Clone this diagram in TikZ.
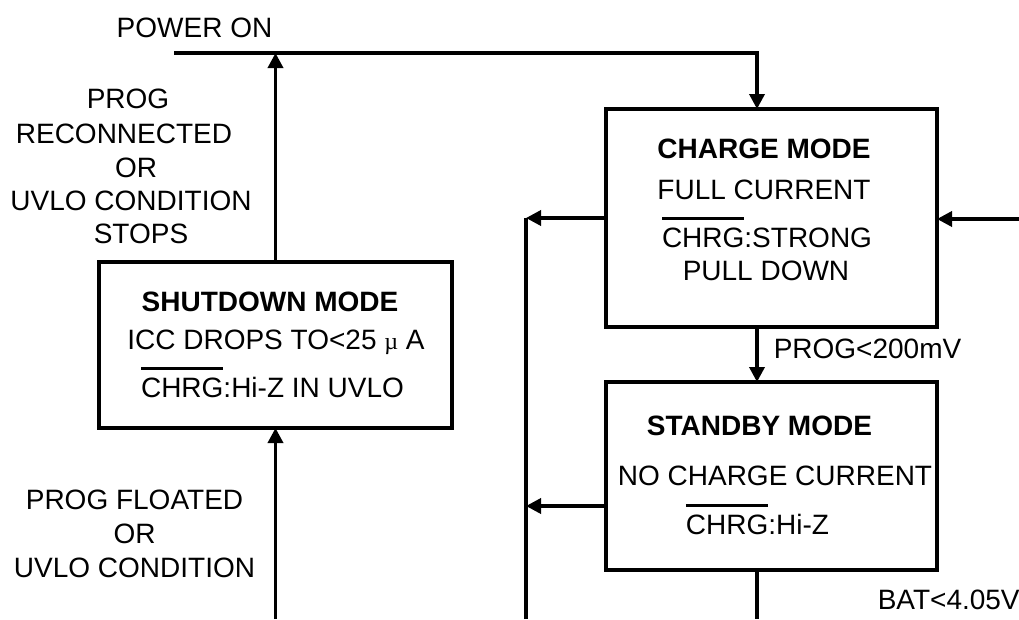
\documentclass[tikz,border=0pt]{standalone}
\usepackage{fontspec}
\setmainfont{Liberation Sans}
\newfontfamily\serfam{Liberation Serif}
\usetikzlibrary{arrows.meta,calc}
\newcommand\ovl[1]{\setbox0\hbox{#1}\rlap{\raisebox{\dimexpr\ht0+7pt\relax}{\rule{\wd0}{3pt}}}\box0}
\newcommand\micro{{\serfam\fontsize{24}{24}\selectfont µ}}
\begin{document}
\begin{tikzpicture}[x=1pt,y=-1pt, line width=3.5pt,
  mode/.style={draw, rectangle, inner sep=0pt, outer sep=0pt, line width=3.3pt},
  arr/.style={-{Triangle[length=15pt,width=15pt]}},
  lbl/.style={font=\fontsize{28}{34}\selectfont, inner sep=0pt, anchor=base},
  ttl/.style={lbl, font=\fontsize{28}{34}\selectfont\bfseries}]
\useasboundingbox (0,0) rectangle (1019,619);

% boxes
\node[mode, minimum width=331pt, minimum height=218pt] (charge) at (771.5,218) {};
\node[mode, minimum width=331pt, minimum height=188pt] (standby) at (771.5,476) {};
\node[mode, minimum width=353pt, minimum height=166pt] (shutdown) at (275.5,345) {};

% helper coordinates
\coordinate (pwr) at (174,53);
\coordinate (col) at (757,0);
\coordinate (vl) at (526,619);
\coordinate (rin) at (1019,219);
\coordinate (bot) at (0,619);
\coordinate (sbw) at ($(standby.west)+(0,30)$);

% connectors
\draw[arr] (pwr) -| (col |- charge.north);
\draw[arr] (shutdown.north) -- (shutdown.north |- pwr);
\draw[arr] (shutdown.south |- bot) -- (shutdown.south);
\draw (vl) -- (vl |- charge.west);
\draw[arr] (charge.west) -- (charge.west -| vl);
\draw[arr] (sbw) -- (sbw -| vl);
\draw[arr] (rin) -- (rin -| charge.east);
\draw[arr] (col |- charge.south) -- (col |- standby.north);
\draw (col |- standby.south) -- (col |- bot);

% charge mode text
\node[ttl] (c1) at (764,158) {CHARGE MODE};
\node[lbl] (c2) at (764,199) {FULL CURRENT};
\node[lbl] (c3) at (767,247) {\ovl{CHRG}:STRONG};
\node[lbl] (c4) at (766,280) {PULL DOWN};

% shutdown text
\node[ttl] (s1) at (270,311) {SHUTDOWN MODE};
\node[lbl] (s2) at (276,349) {ICC DROPS TO<25 \micro{} A};
\node[lbl] (s3) at (272.5,397) {\ovl{CHRG}:Hi-Z IN UVLO};

% standby text
\node[ttl] (b1) at (759.5,435) {STANDBY MODE};
\node[lbl] (b2) at (775,485) {NO CHARGE CURRENT};
\node[lbl] (b3) at (757.5,534) {\ovl{CHRG}:Hi-Z};

% labels
\node[lbl] (pon) at (194.5,37) {POWER ON};
\node[lbl, anchor=base west] (prog) at (772,358) {PROG<200mV};
\node[lbl, anchor=base west] (bat) at (876,609) {BAT<4.05V};

\node[lbl] (t1) at (128,108) {PROG};
\node[lbl] (t2) at (124,143) {RECONNECTED};
\node[lbl] (t3) at (136,177) {OR};
\node[lbl] (t4) at (131,210) {UVLO CONDITION};
\node[lbl] (t5) at (141,243) {STOPS};

\node[lbl] (f1) at (134.5,509) {PROG FLOATED};
\node[lbl] (f2) at (134.5,543) {OR};
\node[lbl] (f3) at (134.5,577) {UVLO CONDITION};
\end{tikzpicture}
\end{document}
